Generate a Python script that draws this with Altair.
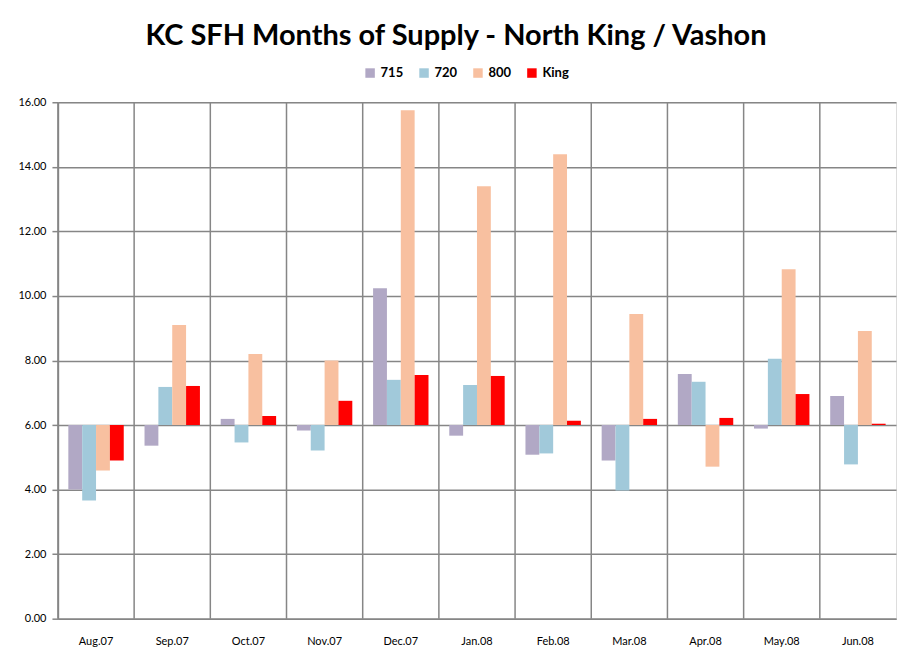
import altair as alt
import pandas as pd

months = ["Aug.07", "Sep.07", "Oct.07", "Nov.07", "Dec.07", "Jan.08",
          "Feb.08", "Mar.08", "Apr.08", "May.08", "Jun.08"]
series = ["715", "720", "800", "King"]
colors = ["#B1A8C5", "#A1C9DA", "#F8C0A0", "#FF0000"]

s715 = [4.00, 5.36, 6.19, 5.83, 10.24, 5.67, 5.08, 4.90, 7.58, 5.89, 6.90]
s720 = [3.66, 7.18, 5.46, 5.21, 7.40, 7.24, 5.12, 3.97, 7.34, 8.05, 4.78]
s800 = [4.59, 9.10, 8.20, 8.00, 15.75, 13.40, 14.39, 9.44, 4.71, 10.83, 8.91]
sKing = [4.90, 7.21, 6.28, 6.75, 7.55, 7.52, 6.13, 6.19, 6.22, 6.96, 6.04]
baseline = 6.0
y_ticks = [0, 2, 4, 6, 8, 10, 12, 14, 16]

rows = []
for name, vals in zip(series, [s715, s720, s800, sKing]):
    for m, v in zip(months, vals):
        rows.append({"month": m, "series": name, "value": v})
df = pd.DataFrame(rows)
mdf = pd.DataFrame({"month": months})

FONT = "Lato"
GRID = "#868686"

xscale = alt.Scale(domain=months, paddingInner=0, paddingOuter=0)
xaxis = alt.Axis(title=None, labelAngle=0, ticks=False, grid=False,
                 bandPosition=0.5,
                 labelPadding=17, labelFontSize=11, labelFont=FONT,
                 labelColor="#000", domainColor=GRID, domainWidth=1.5)

bars = alt.Chart(df).mark_bar().encode(
    x=alt.X("month:N", sort=months, scale=xscale, axis=xaxis),
    xOffset=alt.XOffset("series:N", sort=series,
                        scale=alt.Scale(domain=series, paddingInner=0, paddingOuter=0.75)),
    y=alt.Y("value:Q", scale=alt.Scale(domain=[0, 16], nice=False),
            axis=alt.Axis(title=None, values=y_ticks, format=".2f", grid=True,
                          gridColor=GRID, gridWidth=1.5, tickColor=GRID, tickWidth=1.5,
                          tickSize=6, domainColor=GRID, domainWidth=1.5,
                          labelFontSize=11, labelFont=FONT, labelColor="#000",
                          labelPadding=6)),
    y2=alt.datum(baseline),
    color=alt.Color("series:N", sort=series,
                    scale=alt.Scale(domain=series, range=colors),
                    legend=alt.Legend(title=None, orient="none", direction="horizontal",
                                      columns=4, legendX=306, legendY=-36,
                                      symbolType="square", symbolSize=90,
                                      symbolStrokeWidth=0, columnPadding=14,
                                      labelFont=FONT, labelFontSize=13,
                                      labelFontWeight="bold", labelColor="#000")),
)

vlines = alt.Chart(mdf).mark_rule(color=GRID, strokeWidth=1.5).encode(
    x=alt.X("month:N", sort=months, scale=xscale, bandPosition=0, axis=xaxis),
)

chart = alt.layer(vlines, bars).properties(
    width=839, height=517,
    autosize=alt.AutoSizeParams(type="none"),
    padding={"left": 50, "top": 94, "right": 8, "bottom": 40},
    title=alt.TitleParams("KC SFH Months of Supply - North King / Vashon",
                          font=FONT, fontSize=29, fontWeight="bold", color="#000",
                          anchor="middle", dx=-21, dy=30, offset=22, baseline="alphabetic"),
).configure_view(stroke=GRID, strokeWidth=1.5).configure(background="white")

chart.save("out.html", embed_options={"renderer": "svg", "actions": False})
